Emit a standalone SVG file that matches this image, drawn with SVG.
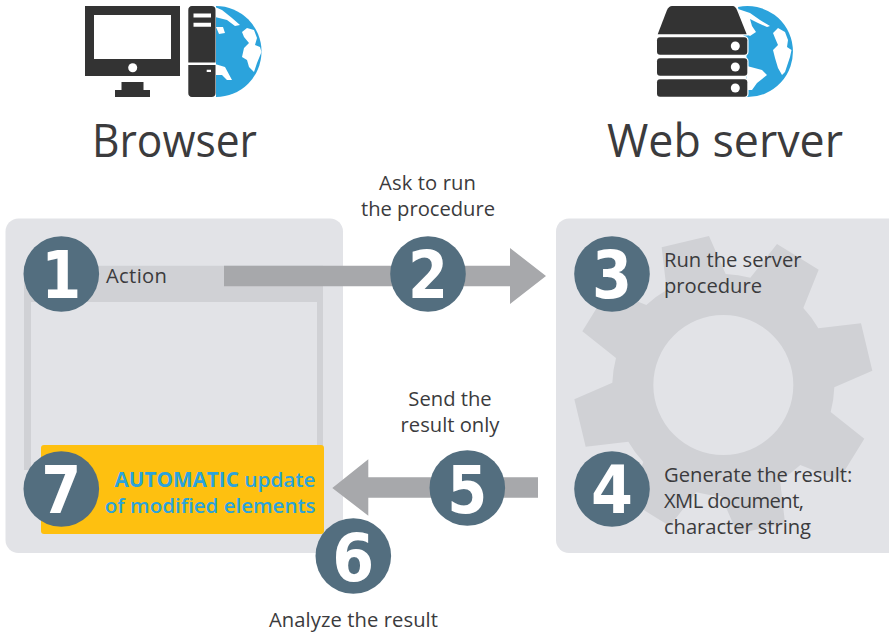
<svg xmlns="http://www.w3.org/2000/svg" width="889" height="634" viewBox="0 0 889 634">
<style>
text{font-family:"Open Sans","Noto Sans","Liberation Sans",sans-serif;fill:#3b3b3d}
.h{font-size:46px}
.l{font-size:20.200px}
.n{font-family:"DejaVu Sans",sans-serif;font-size:66px;font-weight:700;fill:#fff;text-anchor:middle}
.c{fill:#536e7f}
.p{fill:#e2e3e7}
.g{fill:#d0d1d5}
.a{fill:#a7a8ab}
.d{fill:#333;stroke:#fff;stroke-width:0}
.s{fill:#333;stroke:#fff;stroke-width:2.500;paint-order:stroke}
.b{fill:#2ba3dc}
.w{fill:#fff}
.y{font-size:20.500px;fill:#2ba3dc;text-anchor:end;font-weight:600}
</style>
<rect width="889" height="634" fill="#fff"/>
<g id="browser-icon">
<path class="d" d="M85 6H180V76H85ZM94 15V59H171V15Z" fill-rule="evenodd"/>
<circle class="w" cx="132.700" cy="67.700" r="4.500"/>
<path class="d" d="M121.500 82H143.500V90H150V97H115V90H121.500Z"/>
<path class="b" d="M216 6A45.500 45.500 0 0 1 216 97Z"/>
<path class="w" d="M215 7L222 10 232 18 240 25 235 26 227 20 215 17ZM216 27L223 27 225 33 219 34ZM242 32L247 28 254 30 257 38 255 45 260 47 261.500 52 257 63 254 72 249 67 247 60 242 57 244 48 249 43 244 37ZM215 64L225 67 232 80 227 80 222 75 215 75Z"/>
<path class="d" d="M192 6H211.500A4 4 0 0 1 215.500 10V62.500H188.300V10A4 4 0 0 1 192 6ZM188.300 65H215.500V93A4 4 0 0 1 211.500 97H192A4 4 0 0 1 188.300 93Z"/>
<path class="w" d="M193.500 13.500H211V17.500H193.500ZM193.500 22.700H211V26.700H193.500ZM206.700 69.700H211V72H206.700Z"/>
</g>
<g id="server-icon">
<path class="b" d="M738 7A45.500 45.500 0 1 1 746.500 97L746.500 50Z"/>
<path class="w" d="M738 9L750 13 760 20 770 26 767 27 758 23 750 19 752 26 756 32 750 36 746 34ZM773 33L778 28 785 32 788 40 787 47 791.500 50 790 57 785 72 782 75 778 68 775 58 773 50 778 45 775 38ZM747 66L762 70 767 75 757 83 752 90 746 90Z"/>
<path class="s" d="M657.700 34.300L667 10Q669 6 672 6H733Q735 6 737 10L746.700 34.300Z"/>
<rect class="s" x="657" y="37.300" width="90.300" height="17.400" rx="3"/>
<rect class="s" x="657" y="58.300" width="90.300" height="17.400" rx="3"/>
<rect class="s" x="657" y="79.300" width="90.300" height="17.400" rx="3"/>
<circle class="w" cx="735.300" cy="46" r="4.500"/>
<circle class="w" cx="735.300" cy="67" r="4.500"/>
<circle class="w" cx="735.300" cy="88" r="4.500"/>
</g>
<text class="h" x="92" y="157" textLength="165" lengthAdjust="spacingAndGlyphs">Browser</text>
<text class="h" x="607" y="157" textLength="236" lengthAdjust="spacingAndGlyphs">Web server</text>
<g id="browser-panel">
<rect class="p" x="5.500" y="218.500" width="337.500" height="334.500" rx="13"/>
<path class="g" d="M24 265.700H323V470H317V302H31V470H24Z"/>
<rect x="41" y="445" width="283" height="89" rx="3" fill="#fec010"/>
<text class="l" x="106" y="282.500" textLength="61">Action</text>
<text class="y" x="315.500" y="487" textLength="201" lengthAdjust="spacingAndGlyphs" style="text-anchor:start" dx="-201"><tspan font-weight="700">AUTOMATIC</tspan> update</text>
<text class="y" x="315.500" y="513">of modified elements</text>
</g>
<g id="server-panel">
<rect class="p" x="556" y="218.500" width="345" height="334.500" rx="13"/>
<path class="g" fill-rule="evenodd" transform="translate(550 215) scale(.33333)" d="M805 340L933 325 967 467 853 517A333 333 0 0 1 842 591L943 671 866 796 751 750A333 333 0 0 1 690 795L705 923 563 957 513 843A333 333 0 0 1 439 832L359 933 234 856 280 741A333 333 0 0 1 235 680L107 695 73 553 187 503A333 333 0 0 1 198 429L97 349 174 224 289 270A333 333 0 0 1 350 225L335 97 477 63 527 177A333 333 0 0 1 601 188L681 87 806 164 760 279A333 333 0 0 1 805 340ZM730 510A210 210 0 1 0 310 510A210 210 0 1 0 730 510Z"/>
<text class="l" x="664" y="266.500">Run the server</text>
<text class="l" x="664" y="292.500">procedure</text>
<text class="l" x="664" y="482">Generate the result:</text>
<text class="l" x="664" y="507.500" textLength="140">XML document,</text>
<text class="l" x="664" y="533.500" textLength="147">character string</text>
</g>
<g id="connectors">
<path class="a" d="M224 265.700H510V248L546 276 510 304V286.300H224Z"/>
<path class="a" d="M538 477.300H368.300V459.300L332.300 488 368.300 515.700V497.700H538Z"/>
</g>
<text class="l" x="427.500" y="189.500" text-anchor="middle" textLength="97">Ask to run</text>
<text class="l" x="428" y="215.500" text-anchor="middle" textLength="134">the procedure</text>
<text class="l" x="450" y="405.500" text-anchor="middle">Send the</text>
<text class="l" x="450" y="431.500" text-anchor="middle">result only</text>
<text class="l" x="353.500" y="626.500" text-anchor="middle" textLength="169">Analyze the result</text>
<g id="step-1"><circle class="c" cx="61.300" cy="274" r="37.800"/><text class="n" x="61.300" y="298" textLength="40" lengthAdjust="spacingAndGlyphs">1</text></g>
<g id="step-2"><circle class="c" cx="428" cy="274" r="37.800"/><text class="n" x="428" y="298" textLength="40" lengthAdjust="spacingAndGlyphs">2</text></g>
<g id="step-3"><circle class="c" cx="612" cy="274" r="37.800"/><text class="n" x="612" y="298" textLength="40" lengthAdjust="spacingAndGlyphs">3</text></g>
<g id="step-4"><circle class="c" cx="612" cy="489" r="37.800"/><text class="n" x="612" y="513" textLength="42" lengthAdjust="spacingAndGlyphs">4</text></g>
<g id="step-5"><circle class="c" cx="467.300" cy="488" r="37.800"/><text class="n" x="467.300" y="512.500" textLength="40" lengthAdjust="spacingAndGlyphs">5</text></g>
<g id="step-6"><circle class="c" cx="353.300" cy="556" r="37.800"/><text class="n" x="353.300" y="581" textLength="42" lengthAdjust="spacingAndGlyphs">6</text></g>
<g id="step-7"><circle class="c" cx="61.300" cy="489" r="37.800"/><text class="n" x="61.300" y="513" textLength="40" lengthAdjust="spacingAndGlyphs">7</text></g>
</svg>
